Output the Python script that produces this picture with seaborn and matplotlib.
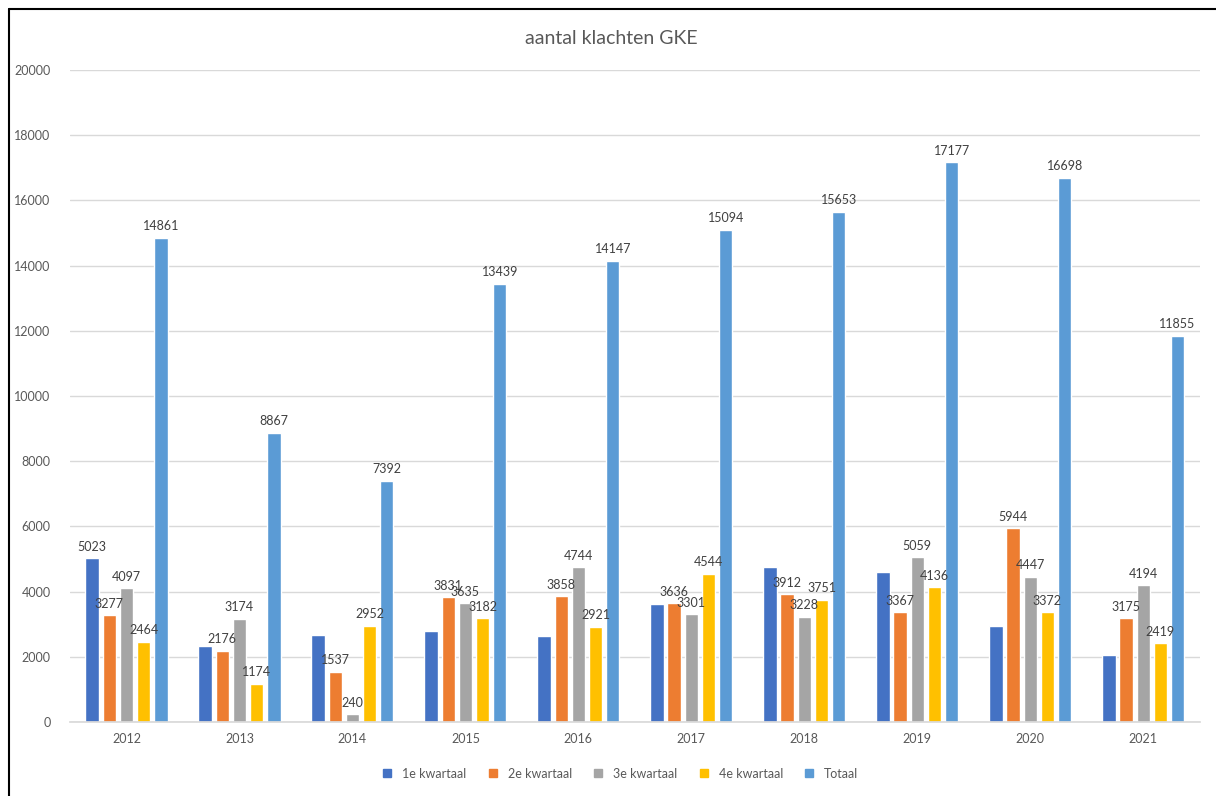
import pandas as pd
import seaborn as sns
import matplotlib.pyplot as plt
from matplotlib.lines import Line2D

jaren = ["2012", "2013", "2014", "2015", "2016", "2017", "2018", "2019", "2020", "2021"]
kw1 = [5023, 2343, 2663, 2791, 2624, 3613, 4762, 4615, 2935, 2067]
kw2 = [3277, 2176, 1537, 3831, 3858, 3636, 3912, 3367, 5944, 3175]
kw3 = [4097, 3174, 240, 3635, 4744, 3301, 3228, 5059, 4447, 4194]
kw4 = [2464, 1174, 2952, 3182, 2921, 4544, 3751, 4136, 3372, 2419]
totaal = [14861, 8867, 7392, 13439, 14147, 15094, 15653, 17177, 16698, 11855]
reeksen = ["1e kwartaal", "2e kwartaal", "3e kwartaal", "4e kwartaal", "Totaal"]
kleuren = ["#4472C4", "#ED7D31", "#A5A5A5", "#FFC000", "#5B9BD5"]

rows = []
for naam, waarden in zip(reeksen, [kw1, kw2, kw3, kw4, totaal]):
    for j, v in zip(jaren, waarden):
        rows.append({"jaar": j, "reeks": naam, "aantal": v})
df = pd.DataFrame(rows)

sns.set_theme(style="white")
plt.rcParams['font.family'] = ['Lato', 'DejaVu Sans']

fig = plt.figure(figsize=(12.16, 7.96), dpi=100)
ax = fig.add_axes([0.0576, 0.093, 0.929, 0.819])

sns.barplot(data=df, x="jaar", y="aantal", hue="reeks", order=jaren, hue_order=reeksen,
            palette=kleuren, width=0.76, gap=0.22, ax=ax, legend=False, saturation=1)

ax.set_ylim(0, 20000)
ax.set_yticks(range(0, 20001, 2000))
ax.yaxis.grid(True, color="#d9d9d9", linewidth=1)
ax.set_axisbelow(True)
ax.set_xlabel("")
ax.set_ylabel("")
for s in ["top", "right", "left"]:
    ax.spines[s].set_visible(False)
ax.spines["bottom"].set_color("#d9d9d9")
ax.tick_params(axis="both", length=0, labelsize=9, colors="#595959")
ax.tick_params(axis="y", pad=14)
ax.tick_params(axis="x", pad=8)

# labels: 1e kwartaal only labelled for 2012
for i, cont in enumerate(ax.containers):
    waarden = [kw1, kw2, kw3, kw4, totaal][i]
    if i == 0:
        labels = [str(waarden[0])] + [""] * (len(waarden) - 1)
    else:
        labels = [str(v) for v in waarden]
    ax.bar_label(cont, labels=labels, padding=4, fontsize=9, color="#404040")

fig.text(0.503, 0.952, "aantal klachten GKE", ha="center", va="center", fontsize=14, color="#595959")

handles = [Line2D([0], [0], marker="s", linestyle="", markersize=6, markerfacecolor=c,
                  markeredgecolor=c) for c in kleuren]
fig.legend(handles, reeksen, loc="center", bbox_to_anchor=(0.507, 0.028), ncol=5, frameon=False,
           fontsize=9, labelcolor="#595959", handletextpad=0.2, columnspacing=1.1)

# outer frame (top and left)
fig.add_artist(Line2D([0.007, 1.0], [0.989, 0.989], color="black", linewidth=1.5, transform=fig.transFigure))
fig.add_artist(Line2D([0.007, 0.007], [0.0, 0.989], color="black", linewidth=1.5, transform=fig.transFigure))

fig.savefig("out.png", dpi=100, facecolor="white")
